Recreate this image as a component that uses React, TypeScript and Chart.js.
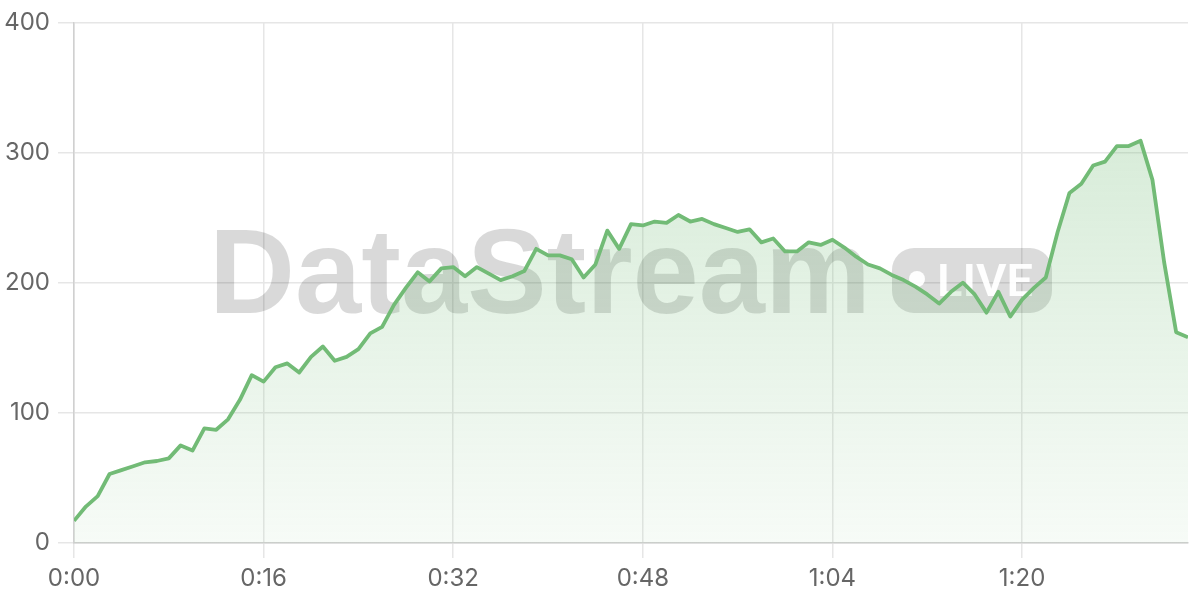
import React, { useEffect, useRef } from "react";
import { Chart, registerables } from "chart.js";

Chart.register(...registerables);

const seconds: number[] = Array.from({ length: 95 }, (_, i) => i);
const viewers: number[] = [
  17, 28, 36, 53, 56, 59, 62, 63, 65, 75,
  71, 88, 87, 95, 110, 129, 124, 135, 138, 131,
  143, 151, 140, 143, 149, 161, 166, 183, 196, 208,
  201, 211, 212, 205, 212, 207, 202, 205, 209, 226,
  221, 221, 218, 204, 214, 240, 226, 245, 244, 247,
  246, 252, 247, 249, 245, 242, 239, 241, 231, 234,
  224, 224, 231, 229, 233, 227, 220, 214, 211, 206,
  202, 197, 191, 184, 193, 200, 191, 177, 193, 174,
  187, 196, 204, 239, 269, 276, 290, 293, 305, 305,
  309, 279, 215, 162, 158,
];
const xTickValues: number[] = [0, 16, 32, 48, 64, 80];
const xTickLabels: string[] = ["0:00", "0:16", "0:32", "0:48", "1:04", "1:20"];
const yTickValues: number[] = [0, 100, 200, 300, 400];

const LINE = "rgb(114,187,118)";
const FONT = "Inter, 'Noto Sans', sans-serif";

const watermark = {
  id: "watermark",
  beforeDatasetsDraw(chart: any) {
    const c = chart.ctx as CanvasRenderingContext2D;
    c.save();
    c.font = "bold 120px 'Liberation Sans', Arial, sans-serif";
    c.fillStyle = "rgba(0,0,0,0.15)";
    c.textBaseline = "alphabetic";
    c.textAlign = "left";
    const text = "DataStream";
    const w = c.measureText(text).width;
    const targetW = 662;
    c.translate(209, 313);
    c.scale(targetW / w, 1);
    c.fillText(text, 0, 0);
    c.restore();

    c.save();
    const px = 892, py = 248, pw = 160, ph = 65, r = 22;
    c.beginPath();
    c.moveTo(px + r, py);
    c.lineTo(px + pw - r, py);
    c.arcTo(px + pw, py, px + pw, py + r, r);
    c.lineTo(px + pw, py + ph - r);
    c.arcTo(px + pw, py + ph, px + pw - r, py + ph, r);
    c.lineTo(px + r, py + ph);
    c.arcTo(px, py + ph, px, py + ph - r, r);
    c.lineTo(px, py + r);
    c.arcTo(px, py, px + r, py, r);
    c.closePath();
    c.fillStyle = "rgba(0,0,0,0.14)";
    c.fill();
    c.fillStyle = "rgba(255,255,255,0.95)";
    c.beginPath();
    c.arc(917, 279, 8, 0, Math.PI * 2);
    c.fill();
    c.font = "600 44px Roboto, 'Noto Sans', sans-serif";
    c.textBaseline = "alphabetic";
    c.textAlign = "left";
    const lw = c.measureText("LIVE").width;
    c.translate(937, 296);
    c.scale(96 / lw, 1);
    c.fillText("LIVE", 0, 0);
    c.restore();
  },
};

export default function App() {
  const ref = useRef<HTMLCanvasElement | null>(null);

  useEffect(() => {
    if (!ref.current) return;
    const chart = new Chart(ref.current, {
      type: "line",
      data: {
        datasets: [
          {
            data: seconds.map((s, i) => ({ x: s, y: viewers[i] })),
            borderColor: LINE,
            borderWidth: 3.8,
            borderJoinStyle: "round",
            pointRadius: 0,
            tension: 0,
            fill: "origin",
            backgroundColor: (ctx: any) => {
              const { chart } = ctx;
              const area = chart.chartArea;
              if (!area) return "rgba(114,187,118,0.15)";
              const g = chart.ctx.createLinearGradient(0, area.top, 0, area.bottom);
              g.addColorStop(0, "rgba(114,187,118,0.34)");
              g.addColorStop(1, "rgba(114,187,118,0.06)");
              return g;
            },
          },
        ],
      },
      options: {
        animation: false,
        responsive: true,
        maintainAspectRatio: false,
        layout: { padding: { top: 18, right: 12, left: 0, bottom: 0 } },
        plugins: {
          legend: { display: false },
          tooltip: { enabled: false },
        },
        scales: {
          x: {
            type: "linear",
            min: 0,
            max: 94,
            afterFit: (s: any) => {
              s.height = 57;
            },
            afterBuildTicks: (s: any) => {
              s.ticks = xTickValues.map((v) => ({ value: v }));
            },
            ticks: {
              includeBounds: false,
              maxRotation: 0,
              autoSkip: false,
              padding: 6,
              color: "#666",
              font: { family: FONT, size: 24 },
              callback: (v: any) => xTickLabels[xTickValues.indexOf(Number(v))] ?? "",
            },
            grid: { color: "#e6e6e6", lineWidth: 1.5, tickLength: 15 },
            border: { color: "#d0d0d0", width: 1.5 },
          },
          y: {
            min: 0,
            max: 400,
            afterFit: (s: any) => {
              s.width = 74;
            },
            afterBuildTicks: (s: any) => {
              s.ticks = yTickValues.map((v) => ({ value: v }));
            },
            ticks: {
              padding: 8,
              color: "#666",
              font: { family: FONT, size: 24 },
            },
            grid: { color: "#e6e6e6", lineWidth: 1.5, tickLength: 16 },
            border: { color: "#d0d0d0", width: 1.5 },
          },
        },
      },
      plugins: [watermark],
    });
    return () => chart.destroy();
  }, []);

  return (
    <div style={{ position: "absolute", left: 0, top: 0, width: 1200, height: 600, background: "#fff" }}>
      <canvas ref={ref} />
    </div>
  );
}
